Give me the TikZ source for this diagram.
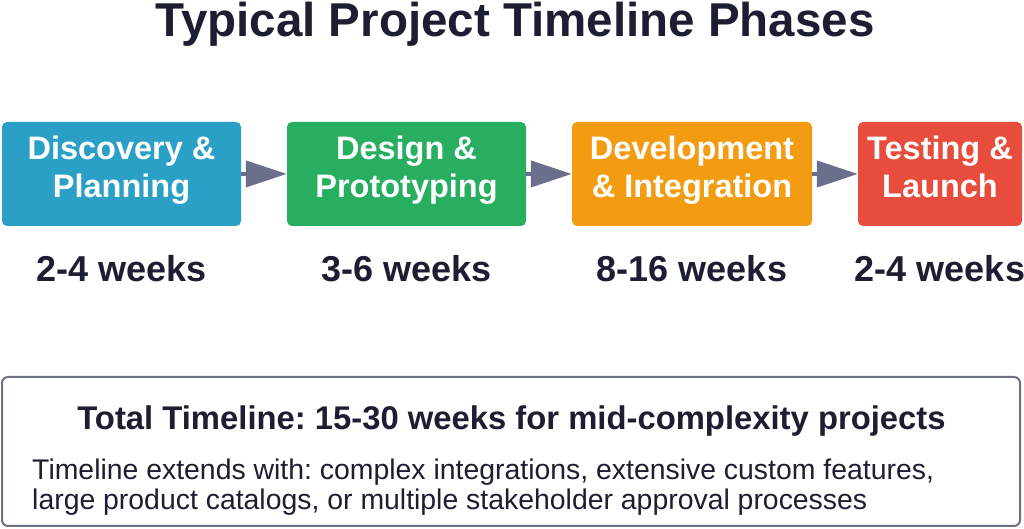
\documentclass[tikz,border=0pt]{standalone}
\usepackage{fontspec}
\setmainfont{Liberation Sans}
\usetikzlibrary{arrows.meta}
\frenchspacing
\definecolor{ink}{HTML}{1E1E32}
\definecolor{cblue}{HTML}{2BA0C6}
\definecolor{cgreen}{HTML}{27AE60}
\definecolor{corange}{HTML}{F39C12}
\definecolor{cred}{HTML}{E74C3C}
\definecolor{arrowc}{HTML}{6B6E8C}
\definecolor{framec}{HTML}{6E7085}
\tikzset{
  phase/.style={rounded corners=5pt, minimum height=104pt, inner sep=0pt, draw=none},
  phasetext/.style={anchor=base, inner sep=0pt, text=white, font=\fontsize{32.5}{38}\selectfont\bfseries},
  weeks/.style={anchor=base, inner sep=0pt, text=ink, font=\fontsize{36}{40}\selectfont\bfseries},
  arr/.style={draw=arrowc, line width=4pt, -{Triangle[length=41pt,width=26pt]}},
  summary/.style={draw=framec, line width=2pt, rounded corners=6pt, fill=white, inner sep=0pt},
}
\begin{document}
\begin{tikzpicture}[x=1pt,y=1pt]
\useasboundingbox (0,0) rectangle (1024,529);
% title
\node[anchor=base, inner sep=0pt, text=ink, font=\fontsize{47.5}{50}\selectfont\bfseries] (title) at (515,492.5) {Typical Project Timeline Phases};
% phase boxes
\node[phase, fill=cblue, minimum width=239pt] (b1) at (121.5,355) {};
\node[phase, fill=cgreen, minimum width=239pt] (b2) at (406.5,355) {};
\node[phase, fill=corange, minimum width=240pt] (b3) at (692,355) {};
\node[phase, fill=cred, minimum width=164pt] (b4) at (940,355) {};
% phase texts
\node[phasetext] (t1a) at (121.5,369) {Discovery \&};
\node[phasetext] (t1b) at (121.5,331) {Planning};
\node[phasetext] (t2a) at (406.5,369) {Design \&};
\node[phasetext] (t2b) at (406.5,331) {Prototyping};
\node[phasetext] (t3a) at (692,369) {Development};
\node[phasetext] (t3b) at (692,331) {\& Integration};
\node[phasetext] (t4a) at (940,369) {Testing \&};
\node[phasetext] (t4b) at (940,331) {Launch};
% arrows
\draw[arr] (b1.east) -- (b2.west);
\draw[arr] (b2.east) -- (b3.west);
\draw[arr] (b3.east) -- (b4.west);
% durations
\node[weeks] (w1) at (121.5,247) {2-4 weeks};
\node[weeks] (w2) at (406.5,247) {3-6 weeks};
\node[weeks] (w3) at (692,247) {8-16 weeks};
\node[weeks] (w4) at (940,247) {2-4 weeks};
% summary box
\node[summary, minimum width=1018pt, minimum height=149pt] (sum) at (511,77.5) {};
\node[anchor=base, inner sep=0pt, text=ink, font=\fontsize{32.8}{36}\selectfont\bfseries] (sumtitle) at (511.5,99) {Total Timeline: 15-30 weeks for mid-complexity projects};
\node[anchor=base west, inner sep=0pt, text=ink, font=\fontsize{28.4}{30}\selectfont] (sum1) at (32,49) {Timeline extends with: complex integrations, extensive custom features,};
\node[anchor=base west, inner sep=0pt, text=ink, font=\fontsize{28.4}{30}\selectfont] (sum2) at (32,19) {large product catalogs, or multiple stakeholder approval processes};
\end{tikzpicture}
\end{document}
